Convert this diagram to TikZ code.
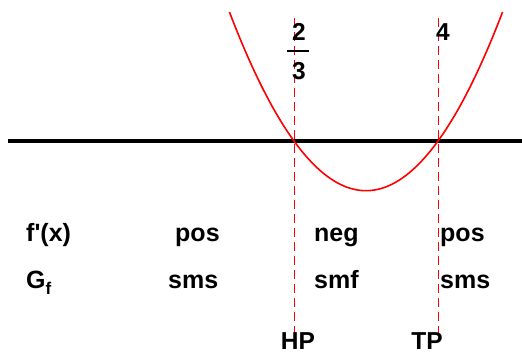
\documentclass[tikz,border=0pt]{standalone}
\usepackage{fontspec}
\setmainfont{Liberation Sans}
\begin{document}
\begin{tikzpicture}[x=1pt,y=-1pt,
  lbl/.style={font=\bfseries\fontsize{25}{25}\selectfont, inner sep=0pt, anchor=base west},
  clbl/.style={font=\bfseries\fontsize{24.5}{24.5}\selectfont, inner sep=0pt, anchor=base},
  guide/.style={red, line width=0.9pt, dash pattern=on 9pt off 5pt},
  curve/.style={red, line width=1.6pt},
  axis/.style={black, line width=4pt}]
\useasboundingbox (0,0) rectangle (522,354);
% axis
\coordinate (axL) at (8,141);
\coordinate (axR) at (522,141);
\draw[axis] (axL) -- (axR);
% guide lines
\coordinate (g1t) at (294,18);
\coordinate (g1b) at (294,334);
\coordinate (g2t) at (438,18);
\coordinate (g2b) at (438,334);
\draw[guide] (g1t) -- (g1b);
\draw[guide] (g2t) -- (g2b);
% parabola
\begin{scope}
\clip (0,12) rectangle (522,354);
\draw[curve] plot[domain=228:504, samples=120, smooth] ({\x},{141+0.00959*(\x-294)*(438-\x)});
\end{scope}
% fraction 2/3
\node[clbl] (two) at (299,40) {2};
\coordinate (barL) at (287,51);
\coordinate (barR) at (309,51);
\draw[line width=1.4pt] (barL) -- (barR);
\node[clbl] (three) at (299,79) {3};
\node[clbl] (four) at (443,40) {4};
% rows
\node[lbl] (fx) at (26,241) {f\textquotesingle(x)};
\node[lbl] (pos1) at (175,241) {pos};
\node[lbl] (neg) at (314,241) {neg};
\node[lbl] (pos2) at (440,241) {pos};
\node[lbl] (gf) at (26,288) {G\raisebox{-6pt}{\fontsize{17}{17}\selectfont f}};
\node[lbl] (sms1) at (168,288) {sms};
\node[lbl] (smf) at (314,288) {smf};
\node[lbl] (sms2) at (440,288) {sms};
\node[clbl] (hp) at (298,349.5) {HP};
\node[clbl] (tp) at (427,349.5) {TP};
\end{tikzpicture}
\end{document}
